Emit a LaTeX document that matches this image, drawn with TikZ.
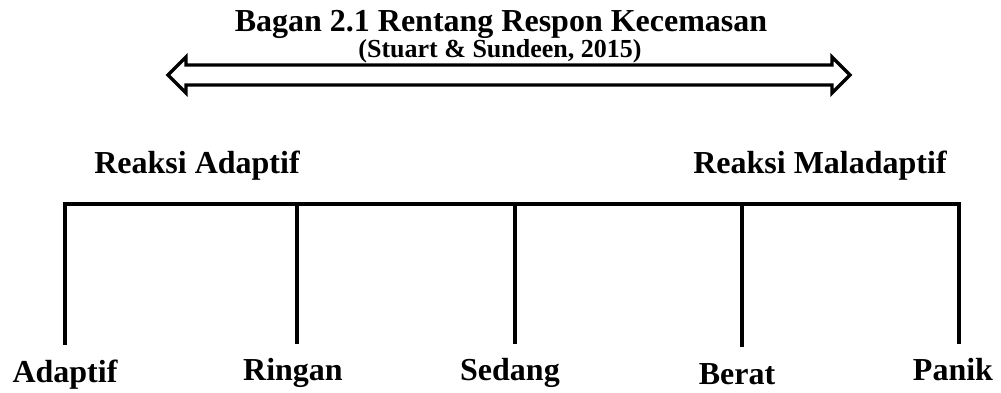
\documentclass[tikz,border=0pt]{standalone}
\usepackage{fontspec}
\setmainfont{Liberation Serif}
\begin{document}
\begin{tikzpicture}[x=0.75pt,y=-0.75pt,
  lbl/.style={font=\fontsize{24}{28}\selectfont\bfseries,inner sep=0pt,anchor=base},
  sub/.style={font=\fontsize{19.5}{23}\selectfont\bfseries,inner sep=0pt,anchor=base},
  bar/.style={line width=3pt,line cap=rect},
  dbl/.style={line width=2.6pt,line join=miter}]
\useasboundingbox (0,0) rectangle (1001,393);
\node[lbl] (title) at (501,31) {Bagan 2.1 Rentang Respon Kecemasan};
\node[sub] (cite) at (500,57) {(Stuart \& Sundeen, 2015)};
% double arrow
\draw[dbl] (168,75) -- (186,57) -- (186,65) -- (832,65) -- (832,57) -- (850,75)
  -- (832,93) -- (832,85) -- (186,85) -- (186,93) -- cycle;
\node[lbl] (ra) at (197,173) {Reaksi Adaptif};
\node[lbl] (rm) at (820,173) {Reaksi Maladaptif};
\coordinate (b1) at (65,204);
\coordinate (b2) at (297,204);
\coordinate (b3) at (515,204);
\coordinate (b4) at (742,204);
\coordinate (b5) at (959,204);
\coordinate (e1) at (65,343);
\coordinate (e2) at (297,342);
\coordinate (e3) at (515,342);
\coordinate (e4) at (742,345);
\coordinate (e5) at (959,342);
\draw[bar] (e1) -- (b1) -- (b5) -- (e5);
\draw[bar] (b2) -- (e2);
\draw[bar] (b3) -- (e3);
\draw[bar] (b4) -- (e4);
\node[lbl] (n1) at (65,382) {Adaptif};
\node[lbl] (n2) at (293,380) {Ringan};
\node[lbl] (n3) at (510,380) {Sedang};
\node[lbl] (n4) at (737,384) {Berat};
\node[lbl] (n5) at (953,380) {Panik};
\end{tikzpicture}
\end{document}
